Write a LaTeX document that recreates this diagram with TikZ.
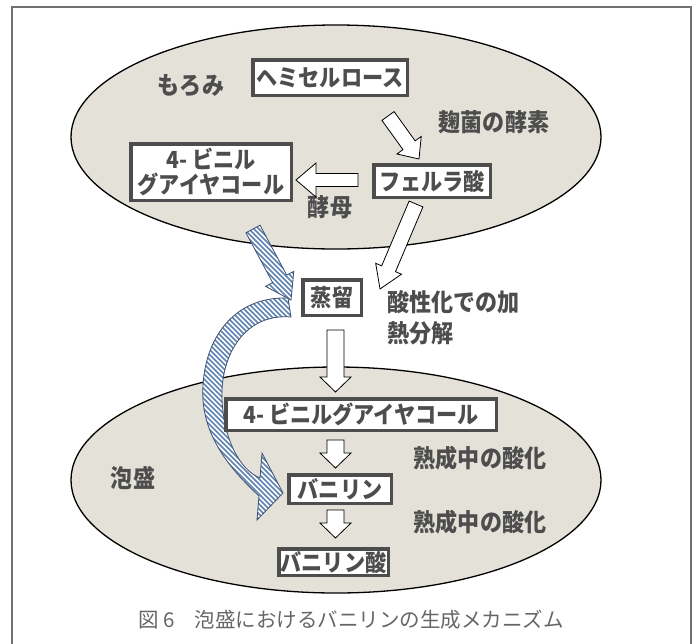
\documentclass[tikz,border=0pt]{standalone}
\usepackage{fontspec}
\newfontfamily\jp{Noto Sans CJK JP}
\newfontfamily\jpn{Noto Sans CJK JP}[FakeStretch=0.9]
\usetikzlibrary{calc}
\definecolor{txt}{HTML}{4D4D4D}
\definecolor{ellfill}{HTML}{E4E1D9}
\definecolor{framec}{HTML}{707070}
\definecolor{stripec}{HTML}{5F82B5}
\definecolor{stripeedge}{HTML}{3F5170}
\definecolor{capc}{HTML}{666666}
\newcommand\blkhead[3]{\coordinate (hh) at ($(#2)!#3!(#1)$);}
\newcommand\blkpath[4]{($(#1)!#3!90:(#2)$) -- ($(hh)!#3!90:(#2)$) -- ($(hh)!#4!90:(#2)$) -- (#2) -- ($(hh)!#4!-90:(#2)$) -- ($(hh)!#3!-90:(#2)$) -- ($(#1)!#3!-90:(#2)$) -- cycle}
\newcommand\curvedpath{(291,317) .. controls (245,313) and (220,355) .. (222,400) .. controls (224,440) and (240,470) .. (260,478) -- (262,453) -- (283,493) -- (257,520) -- (259,496) .. controls (240,478) and (206,445) .. (203,400) .. controls (200,345) and (230,296) .. (288,298) -- cycle}
\begin{document}
\begin{tikzpicture}[x=1pt,y=-1pt,
  box/.style={draw=txt, line width=3.5pt, fill=white, inner sep=0pt, text=txt,
    font=\jpn\bfseries\fontsize{23.5}{26}\selectfont, align=center},
  lbl/.style={text=txt, inner sep=0pt, font=\jpn\bfseries\fontsize{24.5}{31}\selectfont},
  warrow/.style={fill=white, draw=black, line width=0.8pt, line join=miter},
  sedge/.style={draw=stripeedge, line width=0.8pt, line join=miter},
  stripe/.style={draw=stripec, line width=1.7pt}]
\useasboundingbox (0,0) rectangle (695,643);
% frame
\draw[framec, line width=1.5pt] (12,660) -- (12,7) -- (691,7) -- (691,660);
% ellipses
\draw[fill=ellfill, line width=1.3pt] (336,137) ellipse [x radius=265pt, y radius=112pt];
\draw[fill=ellfill, line width=1.3pt] (336,480) ellipse [x radius=265pt, y radius=113pt];
% labels
\node[lbl] (moromi) at (191,86) {もろみ};
\node[lbl] (awamori) at (133,478) {泡盛};
\node[lbl] (koji) at (494,122) {麹菌の酵素};
\node[lbl] (kobo) at (330,207) {酵母};
\node[lbl, align=left, anchor=north west] (kanetsu) at (387,290) {酸性化での加\\熱分解};
\node[lbl] (jukusei1) at (480,458) {熟成中の酸化};
\node[lbl] (jukusei2) at (480,522) {熟成中の酸化};
% arrow end points
\coordinate (a1s) at (388,116); \coordinate (a1e) at (419,159);
\coordinate (a2s) at (358,180); \coordinate (a2e) at (296,180);
\coordinate (a3s) at (416,204); \coordinate (a3e) at (380,289);
\coordinate (a4s) at (335.5,330); \coordinate (a4e) at (335.5,392);
\coordinate (a5s) at (335.5,440); \coordinate (a5e) at (335.5,468);
\coordinate (a6s) at (335.5,510); \coordinate (a6e) at (335.5,538);
\coordinate (s1s) at (253,229); \coordinate (s1e) at (291,300);
% white block arrows
\blkhead{a1s}{a1e}{17pt}\draw[warrow] \blkpath{a1s}{a1e}{7.5pt}{15pt};
\blkhead{a2s}{a2e}{20pt}\draw[warrow] \blkpath{a2s}{a2e}{6.5pt}{17pt};
\blkhead{a3s}{a3e}{22pt}\draw[warrow] \blkpath{a3s}{a3e}{7.5pt}{14pt};
\blkhead{a4s}{a4e}{15pt}\draw[warrow] \blkpath{a4s}{a4e}{8.5pt}{15.5pt};
\blkhead{a5s}{a5e}{15pt}\draw[warrow] \blkpath{a5s}{a5e}{8.5pt}{15.5pt};
\blkhead{a6s}{a6e}{15pt}\draw[warrow] \blkpath{a6s}{a6e}{8.5pt}{15.5pt};
% striped straight arrow
\blkhead{s1s}{s1e}{24pt}
\begin{scope}
\clip \blkpath{s1s}{s1e}{8pt}{16pt};
\fill[white] (200,200) rectangle (320,320);
\foreach \c in {-340,-335,...,100} \draw[stripe] (\c+190,190) -- (\c+560,560);
\end{scope}
\draw[sedge] \blkpath{s1s}{s1e}{8pt}{16pt};
% striped curved arrow
\begin{scope}
\clip \curvedpath;
\fill[white] (190,280) rectangle (300,530);
\foreach \c in {-340,-335,...,100} \draw[stripe] (\c+190,190) -- (\c+560,560);
\end{scope}
\draw[sedge] \curvedpath;
% boxes
\node[box, minimum width=154.5pt, minimum height=35.5pt] (hemi) at (330,77.5) {ヘミセルロース};
\node[box, minimum width=160.5pt, minimum height=56.5pt, font=\jpn\bfseries\fontsize{23.5}{25}\selectfont] (vg1) at (211,172) {4- ビニル\\グアイヤコール};
\node[box, minimum width=116.5pt, minimum height=32.5pt] (fer) at (432,181) {フェルラ酸};
\node[box, minimum width=58.5pt, minimum height=35.5pt] (jouryu) at (332,297.5) {蒸留};
\node[box, minimum width=270.5pt, minimum height=31.5pt] (vg2) at (361,414.5) {4- ビニルグアイヤコール};
\node[box, minimum width=102.5pt, minimum height=28.5pt] (van) at (340,489) {バニリン};
\node[box, minimum width=109.5pt, minimum height=26.5pt] (vana) at (333.5,562) {バニリン酸};
% caption
\node[text=capc, inner sep=0pt, font=\jp\fontsize{20.5}{24}\selectfont] (caption) at (351,620) {図 6　泡盛におけるバニリンの生成メカニズム};
\end{tikzpicture}
\end{document}
